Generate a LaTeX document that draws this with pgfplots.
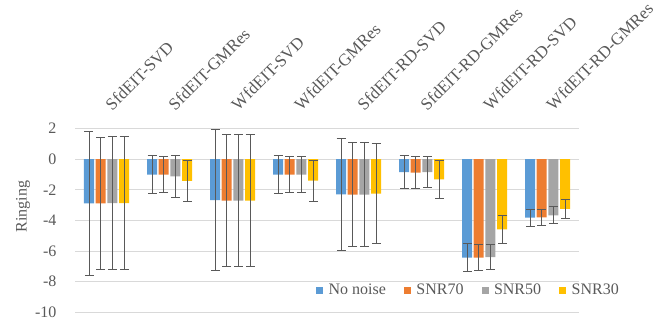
\documentclass[border=0pt]{standalone}
\usepackage{pgfplots}
\pgfplotsset{compat=1.18}
\usepackage{fontspec}
\setmainfont{Liberation Serif}
\definecolor{cBlue}{HTML}{5B9BD5}
\definecolor{cOrange}{HTML}{ED7D31}
\definecolor{cGray}{HTML}{A5A5A5}
\definecolor{cYellow}{HTML}{FFC000}
\definecolor{cText}{HTML}{595959}
\definecolor{cGrid}{HTML}{D9D9D9}
\definecolor{cErr}{HTML}{595959}
\begin{document}
\begin{tikzpicture}
\begin{axis}[
  name=ax,
  scale only axis,
  width=504bp, height=183.7bp,
  xmin=-0.5, xmax=7.5,
  ymin=-10, ymax=2,
  ytick={-10,-8,-6,-4,-2,0,2},
  xtick={0,1,2,3,4,5,6,7},
  xticklabels={SfdEIT-SVD,SfdEIT-GMRes,WfdEIT-SVD,WfdEIT-GMRes,SfdEIT-RD-SVD,SfdEIT-RD-GMRes,WfdEIT-RD-SVD,WfdEIT-RD-GMRes},
  xticklabel pos=upper,
  yticklabel style={xshift=-15bp},
  /pgf/number format/assume math mode=true,
  ticklabel style={font=\fontsize{16bp}{19bp}\selectfont, text=cText},
  xticklabel style={xshift=6bp, yshift=12.3bp, rotate=45, anchor=south west, font=\fontsize{17bp}{20bp}\selectfont},
  major tick length=0pt,
  axis line style={draw=none},
  ymajorgrids,
  grid style={cGrid, line width=1bp},
  ylabel={Ringing},
  every axis y label/.style={at={(rel axis cs:0,0.576)}, xshift=-52bp, rotate=90, anchor=center, font=\fontsize{16bp}{19bp}\selectfont, text=cText},
  ybar,
  bar width=10bp,
  legend columns=4,
  legend style={at={(0.472,0.121)}, anchor=west, draw=none, fill=none,
    font=\fontsize{16bp}{19bp}\selectfont, text=cText,
    /tikz/every odd column/.append style={column sep=2.5bp},
    /tikz/every even column/.append style={column sep=15bp},
    nodes={inner sep=3bp}},
  legend image code/.code={\fill[#1] (0bp,-3.5bp) rectangle (7bp,3.5bp);},
  error bars/y dir=both,
  error bars/y explicit,
  error bars/error bar style={cErr, line width=1bp},
  error bars/error mark options={rotate=90, mark size=4.5bp, cErr, line width=1bp},
]
\addplot[fill=cBlue, draw=none, bar shift=-17.5bp] coordinates {
  (0,-2.88) +- (0,4.72)
  (1,-1.01) +- (0,1.25)
  (2,-2.67) +- (0,4.60)
  (3,-1.01) +- (0,1.25)
  (4,-2.29) +- (0,3.66)
  (5,-0.85) +- (0,1.07)
  (6,-6.43) +- (0,0.93)
  (7,-3.82) +- (0,0.56)
};
\addlegendentry{No noise}
\addplot[fill=cOrange, draw=none, bar shift=-5.9bp] coordinates {
  (0,-2.88) +- (0,4.33)
  (1,-1.01) +- (0,1.16)
  (2,-2.70) +- (0,4.32)
  (3,-1.01) +- (0,1.16)
  (4,-2.31) +- (0,3.37)
  (5,-0.87) +- (0,1.03)
  (6,-6.43) +- (0,0.83)
  (7,-3.80) +- (0,0.52)
};
\addlegendentry{SNR70}
\addplot[fill=cGray, draw=none, bar shift=5.9bp] coordinates {
  (0,-2.86) +- (0,4.37)
  (1,-1.12) +- (0,1.35)
  (2,-2.70) +- (0,4.32)
  (3,-1.01) +- (0,1.16)
  (4,-2.31) +- (0,3.37)
  (5,-0.84) +- (0,1.00)
  (6,-6.40) +- (0,0.83)
  (7,-3.67) +- (0,0.55)
};
\addlegendentry{SNR50}
\addplot[fill=cYellow, draw=none, bar shift=17.5bp] coordinates {
  (0,-2.86) +- (0,4.37)
  (1,-1.42) +- (0,1.35)
  (2,-2.70) +- (0,4.32)
  (3,-1.40) +- (0,1.33)
  (4,-2.24) +- (0,3.24)
  (5,-1.31) +- (0,1.25)
  (6,-4.59) +- (0,0.92)
  (7,-3.25) +- (0,0.60)
};
\addlegendentry{SNR30}
\end{axis}
\pgfresetboundingbox
\path[use as bounding box] ([xshift=-75bp,yshift=-7.7bp]ax.south west) rectangle ([xshift=90bp,yshift=128.6bp]ax.north east);
\end{tikzpicture}
\end{document}
